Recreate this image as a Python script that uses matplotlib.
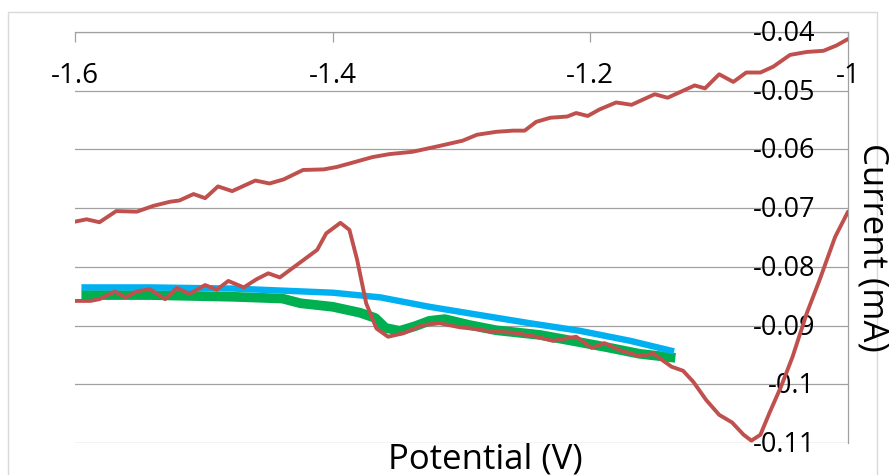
import matplotlib.pyplot as plt
from matplotlib import transforms
from matplotlib.patches import Rectangle

plt.rcParams['font.family'] = ['Open Sans', 'DejaVu Sans']

# Axis ticks / labels
xticks = [-1.6, -1.4, -1.2, -1.0]
xlabels = ['-1.6', '-1.4', '-1.2', '-1']
yticks = [-0.04, -0.05, -0.06, -0.07, -0.08, -0.09, -0.10, -0.11]
ylabels = ['-0.04', '-0.05', '-0.06', '-0.07', '-0.08', '-0.09', '-0.1', '-0.11']

# Red curve, upper branch (forward scan)
up_x = [-1.600, -1.591, -1.581, -1.568, -1.552, -1.539, -1.526, -1.519, -1.508, -1.499,
        -1.489, -1.478, -1.468, -1.460, -1.449, -1.438, -1.423, -1.407, -1.397, -1.387,
        -1.369, -1.356, -1.338, -1.317, -1.299, -1.288, -1.273, -1.260, -1.251, -1.242,
        -1.231, -1.218, -1.211, -1.202, -1.193, -1.180, -1.168, -1.150, -1.140, -1.119,
        -1.111, -1.100, -1.089, -1.079, -1.068, -1.058, -1.045, -1.032, -1.019, -1.009, -1.000]
up_y = [-0.0723, -0.0719, -0.0724, -0.0705, -0.0706, -0.0696, -0.0689, -0.0687, -0.0676, -0.0683,
        -0.0663, -0.0671, -0.0661, -0.0653, -0.0658, -0.0651, -0.0635, -0.0634, -0.0630, -0.0624,
        -0.0613, -0.0608, -0.0604, -0.0594, -0.0585, -0.0575, -0.0570, -0.0568, -0.0568, -0.0553,
        -0.0546, -0.0544, -0.0538, -0.0543, -0.0532, -0.0520, -0.0524, -0.0506, -0.0512, -0.0491,
        -0.0496, -0.0472, -0.0485, -0.0469, -0.0469, -0.0459, -0.0439, -0.0434, -0.0432, -0.0423, -0.0412]

# Red curve, lower branch (reverse scan)
low_x = [-1.600, -1.588, -1.581, -1.569, -1.561, -1.552, -1.542, -1.530, -1.521, -1.511,
         -1.499, -1.490, -1.481, -1.469, -1.459, -1.450, -1.441, -1.428, -1.412, -1.405,
         -1.394, -1.387, -1.381, -1.374, -1.366, -1.357, -1.345, -1.330, -1.317, -1.301,
         -1.288, -1.278, -1.260, -1.242, -1.229, -1.211, -1.199, -1.189, -1.177, -1.162,
         -1.151, -1.144, -1.137, -1.128, -1.120, -1.110, -1.100, -1.090, -1.081, -1.075,
         -1.068, -1.061, -1.052, -1.043, -1.032, -1.022, -1.010, -1.000]
low_y = [-0.0858, -0.0858, -0.0855, -0.0842, -0.0852, -0.0842, -0.0838, -0.0855, -0.0836, -0.0846,
         -0.0831, -0.0839, -0.0824, -0.0835, -0.0821, -0.0811, -0.0818, -0.0797, -0.0771, -0.0743,
         -0.0725, -0.0737, -0.0788, -0.0862, -0.0905, -0.0919, -0.0913, -0.0899, -0.0896, -0.0903,
         -0.0906, -0.0910, -0.0912, -0.0919, -0.0926, -0.0919, -0.0938, -0.0930, -0.0942, -0.0952,
         -0.0948, -0.0959, -0.0970, -0.0977, -0.0996, -0.1027, -0.1052, -0.1065, -0.1086, -0.1096,
         -0.1086, -0.1049, -0.1004, -0.0953, -0.0879, -0.0822, -0.0749, -0.0706]

# Green (measured, background region)
green_x = [-1.595, -1.542, -1.477, -1.439, -1.425, -1.400, -1.379, -1.367, -1.359, -1.348,
           -1.336, -1.325, -1.313, -1.294, -1.273, -1.239, -1.214, -1.187, -1.162, -1.134]
green_y = [-0.0848, -0.0848, -0.0851, -0.0854, -0.0862, -0.0868, -0.0878, -0.0887, -0.0904, -0.0909,
           -0.0901, -0.0892, -0.0889, -0.0899, -0.0908, -0.0916, -0.0926, -0.0937, -0.0948, -0.0955]

# Blue (fitted baseline)
blue_x = [-1.595, -1.542, -1.477, -1.433, -1.400, -1.363, -1.325, -1.286, -1.247, -1.208, -1.169, -1.135]
blue_y = [-0.0835, -0.0835, -0.0837, -0.0841, -0.0844, -0.0852, -0.0868, -0.0882, -0.0896, -0.0909, -0.0926, -0.0944]

fig = plt.figure(figsize=(8.91, 4.75), dpi=100)
ax = fig.add_axes([75 / 891, 1 - 443 / 475, (848 - 75) / 891, (443 - 32) / 475])

ax.plot(green_x, green_y, color='#00B050', lw=7, solid_capstyle='butt', solid_joinstyle='round', zorder=2)
ax.plot(blue_x, blue_y, color='#00B0F0', lw=4.6, solid_capstyle='butt', solid_joinstyle='round', zorder=3)
ax.plot(up_x, up_y, color='#C0504D', lw=2.8, solid_joinstyle='round', solid_capstyle='round', zorder=4)
ax.plot(low_x, low_y, color='#C0504D', lw=2.8, solid_joinstyle='round', solid_capstyle='round', zorder=4)

ax.set_xlim(-1.6, -1.0)
ax.set_ylim(-0.11, -0.04)
ax.set_xticks(xticks)
ax.set_yticks(yticks)
ax.yaxis.grid(True, color='#A0A0A0', lw=0.9)
ax.set_axisbelow(True)

for s in ['left', 'bottom']:
    ax.spines[s].set_visible(False)
for s in ['top', 'right']:
    ax.spines[s].set_color('#A0A0A0')
    ax.spines[s].set_linewidth(0.9)

ax.xaxis.set_ticks_position('top')
ax.tick_params(axis='x', direction='in', length=7, width=0.9, color='#A0A0A0',
               labeltop=False, labelbottom=False)
ax.tick_params(axis='y', length=0, labelleft=False, labelright=False)

# tick labels drawn inside the axes, like the Excel original
xtrans = transforms.offset_copy(ax.transData, fig=fig, x=0, y=-44, units='dots')
for xv, lab in zip(xticks, xlabels):
    ax.text(xv, -0.04, lab, transform=xtrans, ha='center', va='center', fontsize=20)

ytrans = transforms.offset_copy(ax.transData, fig=fig, x=-33, y=-2, units='dots')
for yv, lab in zip(yticks, ylabels):
    ax.text(-1.0, yv, lab, transform=ytrans, ha='right', va='center', fontsize=19.5)

fig.text(485 / 891, 6 / 475, 'Potential (V)', ha='center', va='baseline', fontsize=25)
fig.text(873 / 891, 1 - 247 / 475, 'Current (mA)', rotation=270, ha='center', va='center', fontsize=25)

# chart frame
fig.add_artist(Rectangle((8 / 891, -0.1), (877 - 8) / 891, (475 - 12) / 475 + 0.1,
                         transform=fig.transFigure, fill=False, edgecolor='#D9D9D9', lw=1))

fig.savefig('out.png', dpi=100)
